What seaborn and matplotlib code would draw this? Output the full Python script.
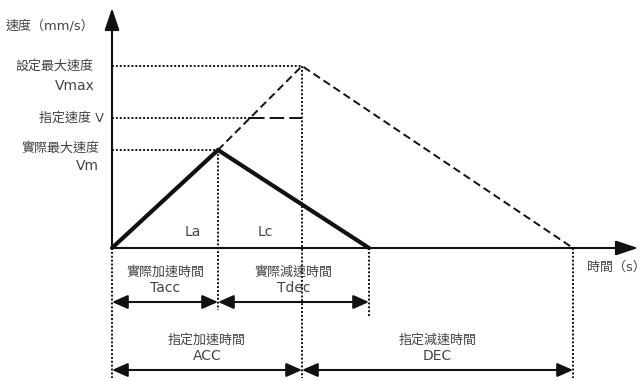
"""Diagrama de perfil de velocidad: aceleración / desaceleración."""

import matplotlib
matplotlib.use("Agg")
import matplotlib.pyplot as plt
import pandas as pd
import seaborn as sns

# Tiempos (unidades arbitrarias del esquema)
t_acc = 106      # tiempo real de aceleración
t_stop = 257     # fin real (Tacc + Tdec)
t_ACC = 190      # tiempo de aceleración especificado
t_end = 461      # fin especificado (ACC + DEC)

# Velocidades
v_m = 98         # velocidad máxima real
v_set = 130      # velocidad especificada
v_max = 182      # velocidad máxima configurada

y_labels = ["設定最大速度\nVmax", "指定速度 V", "實際最大速度\nVm"]
dim_top = [("實際加速時間", "Tacc"), ("實際減速時間", "Tdec")]
dim_bottom = [("指定加速時間", "ACC"), ("指定減速時間", "DEC")]

TXT = "#444444"
INK = "#111111"
DOT = (0, (1, 1))
FS = 9.4      # texto con caracteres CJK
FS_LAT = 10   # texto solo latino

sns.set_theme(style="white")
plt.rcParams["font.family"] = ["DejaVu Sans", "Noto Sans CJK TC"]

fig = plt.figure(figsize=(6.41, 3.81), dpi=100)
ax = fig.add_axes([0, 0, 1, 1])
ax.set_xlim(-112, 529)
ax.set_ylim(-133, 248)
ax.axis("off")

# perfil real (trazo grueso)
real = pd.DataFrame({"t": [0, t_acc, t_stop], "v": [0, v_m, 0]})
sns.lineplot(data=real, x="t", y="v", ax=ax, color=INK, lw=3.0, sort=False,
             solid_joinstyle="miter")

# perfil especificado (discontinuo)
spec = pd.DataFrame({"t": [t_acc, t_ACC, t_end], "v": [v_m, v_max, 0]})
sns.lineplot(data=spec, x="t", y="v", ax=ax, color=INK, lw=1.4, sort=False,
             linestyle=(0, (4, 2.2)))

# cruce con la velocidad especificada
t_cross = t_acc + (v_set - v_m) * (t_ACC - t_acc) / (v_max - v_m)

# guías horizontales
ax.plot([0, t_ACC], [v_max, v_max], color=INK, lw=1.4, ls=DOT)
ax.plot([0, t_cross], [v_set, v_set], color=INK, lw=1.4, ls=DOT)
ax.plot([t_cross, t_ACC], [v_set, v_set], color=INK, lw=1.4, ls=(0, (7.5, 2.6)))
ax.plot([0, t_acc], [v_m, v_m], color=INK, lw=1.4, ls=DOT)

# guías verticales
ax.plot([0, 0], [0, -130], color=INK, lw=1.4, ls=DOT)
ax.plot([t_acc, t_acc], [v_m, -62], color=INK, lw=1.4, ls=DOT)
ax.plot([t_ACC, t_ACC], [v_max, -130], color=INK, lw=1.4, ls=DOT)
ax.plot([t_stop, t_stop], [0, -69], color=INK, lw=1.4, ls=DOT)
ax.plot([t_end, t_end], [0, -130], color=INK, lw=1.4, ls=DOT)

# ejes con flecha
axis_arrow = dict(arrowstyle="-|>,head_length=1.35,head_width=0.45",
                  mutation_scale=10, color=INK, lw=1.5,
                  shrinkA=0, shrinkB=0)
ax.annotate("", xy=(0, 240), xytext=(0, 0), arrowprops=axis_arrow)
ax.annotate("", xy=(526, 0), xytext=(0, 0), arrowprops=axis_arrow)

ax.text(-106, 222, "速度（mm/s）", color=TXT, fontsize=FS, ha="left", va="center")
ax.text(475, -19, "時間（s）", color=TXT, fontsize=FS, ha="left", va="center")

# etiquetas de velocidad
ax.text(-19, v_max, y_labels[0].split("\n")[0], color=TXT, fontsize=FS, ha="right", va="center")
ax.text(-17, v_max - 20, y_labels[0].split("\n")[1], color=TXT, fontsize=FS_LAT, ha="right", va="center")
ax.text(-8, v_set, y_labels[1], color=TXT, fontsize=FS, ha="right", va="center")
ax.text(-13, v_m + 2, y_labels[2].split("\n")[0], color=TXT, fontsize=FS, ha="right", va="center")
ax.text(-13, v_m - 16, y_labels[2].split("\n")[1], color=TXT, fontsize=FS_LAT, ha="right", va="center")

ax.text(81, 16, "La", color=TXT, fontsize=FS_LAT, ha="center", va="center")
ax.text(153, 16, "Lc", color=TXT, fontsize=FS_LAT, ha="center", va="center")

# cotas
dim_arrow = dict(arrowstyle="<|-|>,head_length=0.95,head_width=0.42",
                 mutation_scale=10, color=INK, lw=1.5,
                 shrinkA=0, shrinkB=0)


def cota(x0, x1, y, textos):
    ax.annotate("", xy=(x1, y), xytext=(x0, y), arrowprops=dim_arrow)
    xc = (x0 + x1) / 2
    ax.text(xc, y + 30, textos[0], color=TXT, fontsize=FS, ha="center", va="center")
    ax.text(xc, y + 14, textos[1], color=TXT, fontsize=FS_LAT, ha="center", va="center")


cota(0, t_acc, -54, dim_top[0])
cota(t_acc, t_stop, -54, dim_top[1])
cota(0, t_ACC, -122, dim_bottom[0])
cota(t_ACC, t_end, -122, dim_bottom[1])

fig.savefig("out.png", dpi=100)
